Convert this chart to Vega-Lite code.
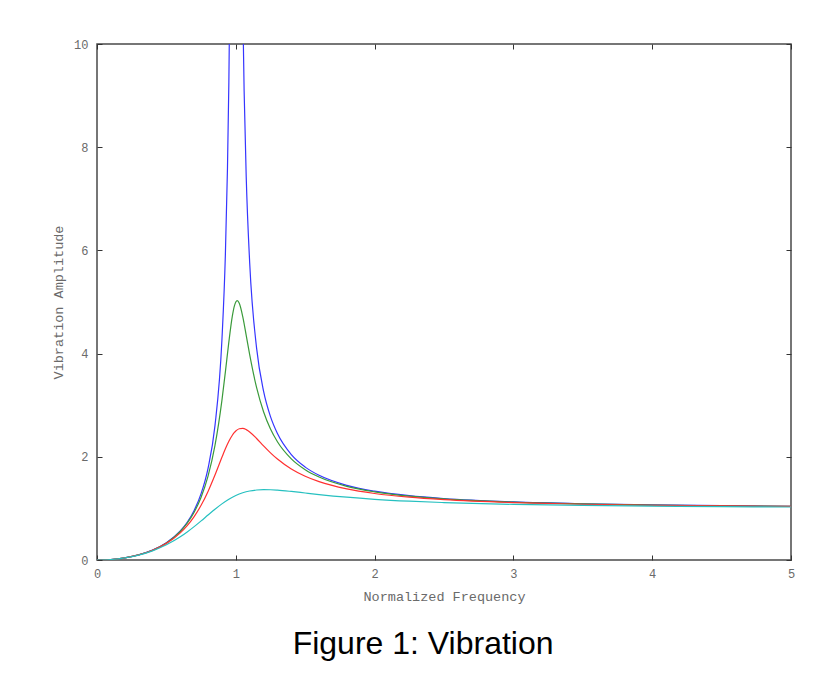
{
  "$schema": "https://vega.github.io/schema/vega-lite/v6.json",
  "width": 694,
  "height": 516,
  "autosize": {"type": "none"},
  "padding": {"left": 97, "top": 44, "right": 46, "bottom": 114},
  "background": "white",
  "config": {
    "view": {"stroke": "#4a4a4a", "strokeWidth": 1.5},
    "axis": {
      "labelFont": "Liberation Mono",
      "titleFont": "Liberation Mono",
      "labelFontSize": 12,
      "titleFontSize": 13.5,
      "labelColor": "#6a6a6a",
      "titleColor": "#6a6a6a",
      "titleFontWeight": "normal",
      "tickColor": "#333333",
      "tickWidth": 1,
      "tickSize": -5,
      "labelFlush": false,
      "domain": false,
      "grid": false
    }
  },
  "title": {
    "text": "Figure 1: Vibration",
    "orient": "bottom",
    "anchor": "middle",
    "frame": "bounds",
    "font": "Liberation Sans",
    "fontSize": 32,
    "fontWeight": "normal",
    "color": "#000000",
    "offset": 26
  },
  "data": {
    "values": [
      {"r": 0, "y": 0, "c": "z0", "s": "b1"},
      {"r": 0.1, "y": 0.0101, "c": "z0", "s": "b1"},
      {"r": 0.2, "y": 0.0417, "c": "z0", "s": "b1"},
      {"r": 0.3, "y": 0.0989, "c": "z0", "s": "b1"},
      {"r": 0.4, "y": 0.1905, "c": "z0", "s": "b1"},
      {"r": 0.5, "y": 0.3333, "c": "z0", "s": "b1"},
      {"r": 0.6, "y": 0.5625, "c": "z0", "s": "b1"},
      {"r": 0.65, "y": 0.7316, "c": "z0", "s": "b1"},
      {"r": 0.7, "y": 0.9608, "c": "z0", "s": "b1"},
      {"r": 0.75, "y": 1.2857, "c": "z0", "s": "b1"},
      {"r": 0.8, "y": 1.7778, "c": "z0", "s": "b1"},
      {"r": 0.85, "y": 2.6036, "c": "z0", "s": "b1"},
      {"r": 0.9, "y": 4.2632, "c": "z0", "s": "b1"},
      {"r": 0.925, "y": 5.9264, "c": "z0", "s": "b1"},
      {"r": 0.94, "y": 7.591, "c": "z0", "s": "b1"},
      {"r": 0.95, "y": 9.2564, "c": "z0", "s": "b1"},
      {"r": 0.96, "y": 11.755, "c": "z0", "s": "b1"},
      {"r": 1.04, "y": 13.255, "c": "z0", "s": "b2"},
      {"r": 1.05, "y": 10.756, "c": "z0", "s": "b2"},
      {"r": 1.06, "y": 9.091, "c": "z0", "s": "b2"},
      {"r": 1.075, "y": 7.4257, "c": "z0", "s": "b2"},
      {"r": 1.1, "y": 5.7619, "c": "z0", "s": "b2"},
      {"r": 1.15, "y": 4.1008, "c": "z0", "s": "b2"},
      {"r": 1.2, "y": 3.2727, "c": "z0", "s": "b2"},
      {"r": 1.25, "y": 2.7778, "c": "z0", "s": "b2"},
      {"r": 1.3, "y": 2.4493, "c": "z0", "s": "b2"},
      {"r": 1.4, "y": 2.0417, "c": "z0", "s": "b2"},
      {"r": 1.5, "y": 1.8, "c": "z0", "s": "b2"},
      {"r": 1.6, "y": 1.641, "c": "z0", "s": "b2"},
      {"r": 1.8, "y": 1.4464, "c": "z0", "s": "b2"},
      {"r": 2.0, "y": 1.3333, "c": "z0", "s": "b2"},
      {"r": 2.25, "y": 1.2462, "c": "z0", "s": "b2"},
      {"r": 2.5, "y": 1.1905, "c": "z0", "s": "b2"},
      {"r": 3, "y": 1.125, "c": "z0", "s": "b2"},
      {"r": 3.5, "y": 1.0889, "c": "z0", "s": "b2"},
      {"r": 4, "y": 1.0667, "c": "z0", "s": "b2"},
      {"r": 4.5, "y": 1.0519, "c": "z0", "s": "b2"},
      {"r": 5, "y": 1.0417, "c": "z0", "s": "b2"},

      {"r": 0, "y": 0, "c": "z1", "s": "g"},
      {"r": 0.1, "y": 0.0101, "c": "z1", "s": "g"},
      {"r": 0.2, "y": 0.0416, "c": "z1", "s": "g"},
      {"r": 0.3, "y": 0.0987, "c": "z1", "s": "g"},
      {"r": 0.4, "y": 0.1896, "c": "z1", "s": "g"},
      {"r": 0.5, "y": 0.3304, "c": "z1", "s": "g"},
      {"r": 0.6, "y": 0.5528, "c": "z1", "s": "g"},
      {"r": 0.65, "y": 0.7137, "c": "z1", "s": "g"},
      {"r": 0.7, "y": 0.9265, "c": "z1", "s": "g"},
      {"r": 0.75, "y": 1.2162, "c": "z1", "s": "g"},
      {"r": 0.8, "y": 1.6244, "c": "z1", "s": "g"},
      {"r": 0.85, "y": 2.2201, "c": "z1", "s": "g"},
      {"r": 0.9, "y": 3.0948, "c": "z1", "s": "g"},
      {"r": 0.925, "y": 3.6461, "c": "z1", "s": "g"},
      {"r": 0.95, "y": 4.226, "c": "z1", "s": "g"},
      {"r": 0.975, "y": 4.7259, "c": "z1", "s": "g"},
      {"r": 0.99, "y": 4.9251, "c": "z1", "s": "g"},
      {"r": 1.0, "y": 5.0, "c": "z1", "s": "g"},
      {"r": 1.01, "y": 5.0252, "c": "z1", "s": "g"},
      {"r": 1.025, "y": 4.9755, "c": "z1", "s": "g"},
      {"r": 1.05, "y": 4.718, "c": "z1", "s": "g"},
      {"r": 1.075, "y": 4.3541, "c": "z1", "s": "g"},
      {"r": 1.1, "y": 3.9784, "c": "z1", "s": "g"},
      {"r": 1.15, "y": 3.3386, "c": "z1", "s": "g"},
      {"r": 1.2, "y": 2.8731, "c": "z1", "s": "g"},
      {"r": 1.25, "y": 2.5384, "c": "z1", "s": "g"},
      {"r": 1.3, "y": 2.292, "c": "z1", "s": "g"},
      {"r": 1.4, "y": 1.96, "c": "z1", "s": "g"},
      {"r": 1.5, "y": 1.7503, "c": "z1", "s": "g"},
      {"r": 1.6, "y": 1.6076, "c": "z1", "s": "g"},
      {"r": 1.8, "y": 1.4281, "c": "z1", "s": "g"},
      {"r": 2.0, "y": 1.3216, "c": "z1", "s": "g"},
      {"r": 2.25, "y": 1.2386, "c": "z1", "s": "g"},
      {"r": 2.5, "y": 1.1851, "c": "z1", "s": "g"},
      {"r": 3, "y": 1.1219, "c": "z1", "s": "g"},
      {"r": 3.5, "y": 1.0868, "c": "z1", "s": "g"},
      {"r": 4, "y": 1.0652, "c": "z1", "s": "g"},
      {"r": 4.5, "y": 1.0508, "c": "z1", "s": "g"},
      {"r": 5, "y": 1.0408, "c": "z1", "s": "g"},

      {"r": 0, "y": 0, "c": "z2", "s": "rd"},
      {"r": 0.1, "y": 0.0101, "c": "z2", "s": "rd"},
      {"r": 0.2, "y": 0.0415, "c": "z2", "s": "rd"},
      {"r": 0.3, "y": 0.0981, "c": "z2", "s": "rd"},
      {"r": 0.4, "y": 0.1871, "c": "z2", "s": "rd"},
      {"r": 0.5, "y": 0.3221, "c": "z2", "s": "rd"},
      {"r": 0.6, "y": 0.5267, "c": "z2", "s": "rd"},
      {"r": 0.65, "y": 0.6671, "c": "z2", "s": "rd"},
      {"r": 0.7, "y": 0.8422, "c": "z2", "s": "rd"},
      {"r": 0.75, "y": 1.0603, "c": "z2", "s": "rd"},
      {"r": 0.8, "y": 1.3287, "c": "z2", "s": "rd"},
      {"r": 0.85, "y": 1.6463, "c": "z2", "s": "rd"},
      {"r": 0.9, "y": 1.9899, "c": "z2", "s": "rd"},
      {"r": 0.925, "y": 2.1543, "c": "z2", "s": "rd"},
      {"r": 0.95, "y": 2.3005, "c": "z2", "s": "rd"},
      {"r": 0.975, "y": 2.4182, "c": "z2", "s": "rd"},
      {"r": 0.99, "y": 2.4719, "c": "z2", "s": "rd"},
      {"r": 1.0, "y": 2.5, "c": "z2", "s": "rd"},
      {"r": 1.01, "y": 2.5219, "c": "z2", "s": "rd"},
      {"r": 1.025, "y": 2.5432, "c": "z2", "s": "rd"},
      {"r": 1.05, "y": 2.5501, "c": "z2", "s": "rd"},
      {"r": 1.075, "y": 2.5271, "c": "z2", "s": "rd"},
      {"r": 1.1, "y": 2.4818, "c": "z2", "s": "rd"},
      {"r": 1.15, "y": 2.3541, "c": "z2", "s": "rd"},
      {"r": 1.2, "y": 2.2115, "c": "z2", "s": "rd"},
      {"r": 1.25, "y": 2.0761, "c": "z2", "s": "rd"},
      {"r": 1.3, "y": 1.956, "c": "z2", "s": "rd"},
      {"r": 1.4, "y": 1.7635, "c": "z2", "s": "rd"},
      {"r": 1.5, "y": 1.6227, "c": "z2", "s": "rd"},
      {"r": 1.6, "y": 1.5182, "c": "z2", "s": "rd"},
      {"r": 1.8, "y": 1.377, "c": "z2", "s": "rd"},
      {"r": 2.0, "y": 1.2883, "c": "z2", "s": "rd"},
      {"r": 2.25, "y": 1.2167, "c": "z2", "s": "rd"},
      {"r": 2.5, "y": 1.1695, "c": "z2", "s": "rd"},
      {"r": 3, "y": 1.1126, "c": "z2", "s": "rd"},
      {"r": 3.5, "y": 1.0806, "c": "z2", "s": "rd"},
      {"r": 4, "y": 1.0607, "c": "z2", "s": "rd"},
      {"r": 4.5, "y": 1.0474, "c": "z2", "s": "rd"},
      {"r": 5, "y": 1.0381, "c": "z2", "s": "rd"},

      {"r": 0, "y": 0, "c": "z4", "s": "cy"},
      {"r": 0.1, "y": 0.0101, "c": "z4", "s": "cy"},
      {"r": 0.2, "y": 0.0411, "c": "z4", "s": "cy"},
      {"r": 0.3, "y": 0.0956, "c": "z4", "s": "cy"},
      {"r": 0.4, "y": 0.178, "c": "z4", "s": "cy"},
      {"r": 0.5, "y": 0.2941, "c": "z4", "s": "cy"},
      {"r": 0.6, "y": 0.45, "c": "z4", "s": "cy"},
      {"r": 0.65, "y": 0.5437, "c": "z4", "s": "cy"},
      {"r": 0.7, "y": 0.6469, "c": "z4", "s": "cy"},
      {"r": 0.75, "y": 0.7575, "c": "z4", "s": "cy"},
      {"r": 0.8, "y": 0.8716, "c": "z4", "s": "cy"},
      {"r": 0.85, "y": 0.9837, "c": "z4", "s": "cy"},
      {"r": 0.9, "y": 1.0878, "c": "z4", "s": "cy"},
      {"r": 0.95, "y": 1.1778, "c": "z4", "s": "cy"},
      {"r": 1.0, "y": 1.25, "c": "z4", "s": "cy"},
      {"r": 1.05, "y": 1.3028, "c": "z4", "s": "cy"},
      {"r": 1.1, "y": 1.3374, "c": "z4", "s": "cy"},
      {"r": 1.15, "y": 1.3566, "c": "z4", "s": "cy"},
      {"r": 1.2, "y": 1.3636, "c": "z4", "s": "cy"},
      {"r": 1.25, "y": 1.3618, "c": "z4", "s": "cy"},
      {"r": 1.3, "y": 1.3541, "c": "z4", "s": "cy"},
      {"r": 1.4, "y": 1.3287, "c": "z4", "s": "cy"},
      {"r": 1.5, "y": 1.2985, "c": "z4", "s": "cy"},
      {"r": 1.6, "y": 1.2686, "c": "z4", "s": "cy"},
      {"r": 1.8, "y": 1.2167, "c": "z4", "s": "cy"},
      {"r": 2.0, "y": 1.1765, "c": "z4", "s": "cy"},
      {"r": 2.25, "y": 1.1393, "c": "z4", "s": "cy"},
      {"r": 2.5, "y": 1.1125, "c": "z4", "s": "cy"},
      {"r": 3, "y": 1.0776, "c": "z4", "s": "cy"},
      {"r": 3.5, "y": 1.0567, "c": "z4", "s": "cy"},
      {"r": 4, "y": 1.0432, "c": "z4", "s": "cy"},
      {"r": 4.5, "y": 1.034, "c": "z4", "s": "cy"},
      {"r": 5, "y": 1.0275, "c": "z4", "s": "cy"}
    ]
  },
  "layer": [
    {
      "mark": {"type": "line", "clip": true, "strokeWidth": 1.2, "interpolate": "monotone"},
      "encoding": {
        "x": {
          "field": "r", "type": "quantitative",
          "scale": {"domain": [0, 5], "nice": false, "zero": false},
          "axis": {"orient": "bottom", "values": [0, 1, 2, 3, 4, 5], "title": "Normalized Frequency", "labelPadding": 13, "titlePadding": 10}
        },
        "y": {
          "field": "y", "type": "quantitative",
          "scale": {"domain": [0, 10], "nice": false},
          "axis": {"orient": "left", "values": [0, 2, 4, 6, 8, 10], "title": "Vibration Amplitude", "labelPadding": 14, "titlePadding": 8}
        },
        "color": {
          "field": "c", "type": "nominal",
          "scale": {"domain": ["z0", "z1", "z2", "z4"], "range": ["#3535ff", "#3a9a3a", "#ff3030", "#26c0c0"]},
          "legend": null
        },
        "detail": {"field": "s", "type": "nominal"}
      }
    },
    {
      "mark": {"type": "point", "opacity": 0},
      "encoding": {
        "x": {
          "field": "r", "type": "quantitative",
          "axis": {"orient": "top", "values": [0, 1, 2, 3, 4, 5], "labels": false, "title": null}
        },
        "y": {
          "field": "y", "type": "quantitative",
          "axis": {"orient": "right", "values": [0, 2, 4, 6, 8, 10], "labels": false, "title": null}
        }
      }
    }
  ],
  "resolve": {"axis": {"x": "independent", "y": "independent"}}
}
